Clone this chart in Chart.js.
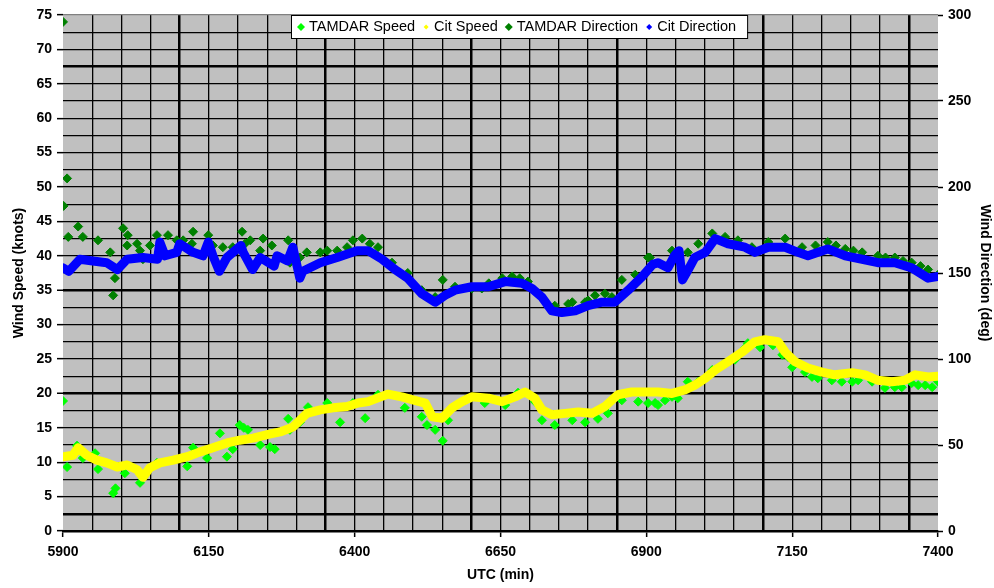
<!DOCTYPE html>
<html lang="en">
<head>
<meta charset="UTF-8">
<title>TAMDAR vs Citation winds</title>
<script src="https://cdn.jsdelivr.net/npm/chart.js@4/dist/chart.umd.min.js"></script>
<style>
  body { margin: 0; background: #fff; }
  canvas { display: block; }
</style>
</head>
<body>
<canvas id="wind_chart" width="994" height="588"></canvas>
<script>
// values: time in UTC minutes, speed in knots, direction in degrees
var tamdarSpeedTime = [5900, 5907, 5924, 5934, 5955, 5960, 5986, 5990, 6006, 6032, 6061, 6113, 6123, 6147, 6169, 6181,
  6191, 6203, 6210, 6217, 6238, 6255, 6263, 6286, 6289, 6306, 6320, 6353, 6375, 6397, 6418, 6440, 6486, 6515, 6524,
  6538, 6551, 6560, 6589, 6623, 6658, 6680, 6709, 6721, 6743, 6773, 6795, 6817, 6834, 6858, 6886, 6903, 6915, 6920,
  6932, 6944, 6954, 6971, 6989, 7013, 7030, 7052, 7069, 7074, 7095, 7117, 7133, 7143, 7150, 7172, 7184, 7194, 7218,
  7235, 7253, 7263, 7287, 7309, 7326, 7338, 7355, 7366, 7378, 7390, 7400];
var tamdarSpeedKnots = [18.9, 9.3, 12.4, 10.6, 11.3, 9.0, 5.5, 6.2, 8.4, 7.0, 9.9, 9.4, 12.1, 10.6, 14.2, 10.8,
  11.9, 15.4, 15.0, 14.7, 12.5, 12.2, 11.9, 16.3, 14.7, 15.8, 18.0, 18.6, 15.8, 18.6, 16.4, 19.8, 17.9, 16.6, 15.4,
  14.7, 13.1, 16.1, 19.0, 18.6, 18.3, 20.1, 18.8, 16.1, 15.4, 16.1, 15.8, 16.3, 17.1, 19.0, 18.8, 18.6, 18.6, 18.3,
  19.0, 19.5, 19.3, 21.7, 21.7, 23.4, 24.1, 24.9, 26.6, 27.3, 26.7, 27.0, 25.6, 25.3, 23.8, 23.1, 22.4, 22.2, 21.9,
  21.7, 21.7, 21.9, 21.7, 20.8, 20.9, 20.9, 21.5, 21.2, 21.2, 20.9, 21.7];

var citSpeedTime = [5900, 5917, 5926, 5941, 5958, 5975, 5993, 6010, 6027, 6037, 6049, 6066, 6089, 6113, 6135, 6157,
  6181, 6203, 6226, 6250, 6272, 6294, 6318, 6341, 6363, 6387, 6406, 6423, 6457, 6481, 6503, 6521, 6533, 6550, 6567,
  6584, 6601, 6629, 6653, 6675, 6692, 6709, 6721, 6738, 6761, 6783, 6807, 6829, 6851, 6875, 6898, 6920, 6944, 6966,
  6983, 7001, 7018, 7040, 7064, 7086, 7103, 7126, 7138, 7155, 7177, 7201, 7223, 7253, 7275, 7297, 7321, 7343, 7361,
  7383, 7400];
var citSpeedKnots = [10.8, 11.0, 12.1, 11.0, 10.3, 9.9, 9.3, 9.6, 8.9, 7.8, 9.2, 9.9, 10.3, 10.8, 11.5, 12.1,
  12.8, 13.2, 13.5, 14.0, 14.4, 15.1, 17.1, 17.6, 17.9, 18.1, 18.6, 18.8, 19.9, 19.5, 19.0, 18.6, 16.6, 16.4, 17.9,
  18.8, 19.5, 19.3, 18.8, 19.5, 20.2, 19.3, 17.6, 16.9, 17.1, 17.3, 17.1, 18.1, 19.8, 20.2, 20.2, 20.2, 20.0, 20.5,
  21.2, 22.2, 23.4, 24.6, 26.0, 27.5, 27.8, 27.5, 26.0, 24.6, 23.7, 23.1, 22.7, 23.0, 22.7, 21.9, 21.7, 21.9, 22.7,
  22.4, 22.5];

var tamdarDirTime = [5900, 5901, 5907, 5909, 5926, 5934, 5960, 5981, 5986, 5989, 6003, 6010, 6011, 6027, 6032, 6037,
  6049, 6061, 6080, 6095, 6106, 6121, 6123, 6149, 6157, 6174, 6191, 6207, 6212, 6221, 6238, 6243, 6258, 6286, 6289,
  6306, 6318, 6341, 6353, 6370, 6387, 6397, 6413, 6426, 6440, 6464, 6491, 6515, 6538, 6551, 6572, 6601, 6618, 6630,
  6653, 6670, 6683, 6697, 6743, 6766, 6773, 6795, 6800, 6812, 6829, 6841, 6858, 6881, 6903, 6906, 6944, 6971, 6989,
  7013, 7035, 7057, 7081, 7109, 7138, 7167, 7190, 7211, 7225, 7241, 7255, 7270, 7297, 7310, 7326, 7340, 7355, 7370,
  7383, 7400];
var tamdarDirDeg = [296, 189, 205, 171, 177, 171, 169, 162, 137, 147, 176, 166, 172, 167, 163, 158,
  166, 172, 172, 169, 169, 167, 174, 172, 166, 165, 165, 174, 167, 169, 163, 170, 166, 169, 156,
  159, 162, 162, 163, 163, 165, 169, 170, 167, 165, 156, 150, 140, 136, 146, 142, 141, 141, 144,
  147, 148, 147, 145, 131, 132, 133, 133, 134, 137, 138, 136, 146, 149, 159, 159, 163, 162, 167,
  173, 171, 169, 165, 168, 170, 165, 166, 168, 166, 164, 163, 162, 160, 159, 159, 157, 156, 154,
  152, 149];

var citDirTime = [5900, 5910, 5929, 5951, 5975, 5993, 6010, 6037, 6062, 6066, 6075, 6095, 6100, 6123, 6140, 6149,
  6157, 6168, 6181, 6205, 6209, 6225, 6238, 6262, 6267, 6285, 6294, 6306, 6311, 6341, 6370, 6404, 6423, 6447, 6469,
  6491, 6515, 6538, 6555, 6572, 6601, 6629, 6658, 6687, 6704, 6721, 6738, 6755, 6778, 6800, 6824, 6846, 6869, 6893,
  6911, 6920, 6937, 6948, 6956, 6962, 6972, 6983, 7001, 7018, 7040, 7069, 7086, 7109, 7138, 7160, 7177, 7211, 7241,
  7270, 7297, 7326, 7355, 7383, 7400];
var citDirDeg = [153, 151, 158, 157, 156, 152, 158, 159, 158, 168, 160, 162, 167, 162, 160, 168,
  160, 151, 159, 166, 162, 152, 159, 154, 160, 157, 165, 147, 151, 156, 159, 163, 163, 158, 152,
  147, 138, 133, 137, 140, 142, 142, 145, 144, 141, 136, 128, 127, 128, 131, 133, 133, 140, 148,
  155, 156, 153, 160, 163, 146, 152, 159, 162, 170, 167, 165, 162, 165, 165, 162, 160, 164, 160,
  158, 156, 156, 153, 147, 148];

var thickRows = [2.5, 20, 35, 67.5];   // knot rows drawn heavier in the original

function pairs(xs, ys) {
  return xs.map(function (x, i) { return { x: x, y: ys[i] }; });
}

var tickFont = { family: '"Liberation Sans", Arial, sans-serif', size: 14, weight: 'bold' };
var titleFont = { family: '"Liberation Sans", Arial, sans-serif', size: 14, weight: 'bold' };
var clear = 'rgba(0,0,0,0)';

var plotBackground = {
  id: 'plotBackground',
  beforeDraw: function (chart) {
    var a = chart.chartArea, ctx = chart.ctx;
    ctx.save();
    ctx.fillStyle = '#c0c0c0';
    ctx.fillRect(a.left, a.top, a.right - a.left, a.bottom - a.top);
    ctx.restore();
  }
};

// excel style legend: white box sitting inside the top of the plot
var boxLegend = {
  id: 'boxLegend',
  afterDraw: function (chart) {
    var ctx = chart.ctx, a = chart.chartArea;
    var sets = chart.data.datasets;
    ctx.save();
    ctx.font = '14.5px "Liberation Sans", Arial, sans-serif';
    var total = 0;
    sets.forEach(function (ds) { total += 8 + ctx.measureText(ds.label).width + 11; });
    var left = a.left + 228, top = a.top, w = total + 10, h = 23;
    ctx.fillStyle = '#fff';
    ctx.fillRect(left, top, w, h);
    ctx.strokeStyle = '#000';
    ctx.lineWidth = 1;
    ctx.strokeRect(left + 0.5, top + 0.5, w, h);
    var x = left + 10, y = top + 12;
    sets.forEach(function (ds) {
      var r = ds.legendMark;
      ctx.fillStyle = ds.backgroundColor;
      ctx.beginPath();
      ctx.moveTo(x, y - r);
      ctx.lineTo(x + r, y);
      ctx.lineTo(x, y + r);
      ctx.lineTo(x - r, y);
      ctx.closePath();
      ctx.fill();
      ctx.fillStyle = '#000';
      ctx.textBaseline = 'middle';
      ctx.textAlign = 'left';
      ctx.fillText(ds.label, x + 8, y);
      x += 8 + ctx.measureText(ds.label).width + 11;
    });
    ctx.restore();
  }
};

var ctx = document.getElementById('wind_chart').getContext('2d');
var chart = new Chart(ctx, {
  type: 'scatter',
  data: {
    datasets: [{
      label: 'TAMDAR Speed',
      data: pairs(tamdarSpeedTime, tamdarSpeedKnots),
      yAxisID: 'y',
      pointStyle: 'rectRot',
      pointRadius: 4.5,
      backgroundColor: '#00ff00',
      borderColor: '#00ff00',
      borderWidth: 1,
      legendMark: 4,
      order: 4
    }, {
      label: 'Cit Speed',
      data: pairs(citSpeedTime, citSpeedKnots),
      yAxisID: 'y',
      showLine: true,
      backgroundColor: '#ffff00',
      borderColor: '#ffff00',
      borderWidth: 9,
      borderJoinStyle: 'round',
      borderCapStyle: 'round',
      pointRadius: 0,
      legendMark: 2.5,
      order: 3
    }, {
      label: 'TAMDAR Direction',
      data: pairs(tamdarDirTime, tamdarDirDeg),
      yAxisID: 'y2',
      pointStyle: 'rectRot',
      pointRadius: 4.5,
      backgroundColor: '#008000',
      borderColor: '#008000',
      borderWidth: 1,
      legendMark: 4,
      order: 2
    }, {
      label: 'Cit Direction',
      data: pairs(citDirTime, citDirDeg),
      yAxisID: 'y2',
      showLine: true,
      backgroundColor: '#0000ff',
      borderColor: '#0000ff',
      borderWidth: 9,
      borderJoinStyle: 'round',
      borderCapStyle: 'round',
      pointRadius: 0,
      legendMark: 3,
      order: 1
    }]
  },
  options: {
    responsive: false,
    animation: false,
    devicePixelRatio: 1,
    events: [],
    layout: { padding: { top: 15, left: 0, right: 0, bottom: 0 } },
    plugins: { legend: { display: false }, tooltip: { enabled: false } },
    scales: {
      x: {
        type: 'linear',
        min: 5900,
        max: 7400,
        afterFit: function (s) { s.height = 57; },
        ticks: {
          stepSize: 50,
          autoSkip: false,
          maxRotation: 0,
          padding: 7,
          color: '#000',
          font: tickFont,
          callback: function (v) { return (v - 5900) % 250 === 0 ? String(v) : ''; }
        },
        grid: {
          color: function (c) { var v = c.tick.value; return (v === 5900 || v === 7400) ? clear : '#000'; },
          lineWidth: function (c) { return (c.tick.value - 6100) % 250 === 0 ? 2.5 : 1.3; },
          tickLength: 6,
          tickWidth: 1.5,
          tickColor: function (c) { return (c.tick.value - 5900) % 250 === 0 ? '#000' : clear; }
        },
        border: { display: true, color: '#000', width: 2.5 },
        title: { display: true, text: 'UTC (min)', color: '#000', font: titleFont, padding: { top: 0, bottom: 4 } }
      },
      y: {
        position: 'left',
        min: 0,
        max: 75,
        afterFit: function (s) { s.width = 63; },
        ticks: {
          stepSize: 2.5,
          autoSkip: false,
          padding: 5,
          color: '#000',
          font: tickFont,
          callback: function (v) { return v % 5 === 0 ? String(v) : ''; }
        },
        grid: {
          color: function (c) { return c.tick.value === 75 ? '#808080' : '#000'; },
          lineWidth: function (c) { return thickRows.indexOf(c.tick.value) >= 0 ? 2.5 : 1.3; },
          tickLength: 6,
          tickWidth: 1.5,
          tickColor: function (c) { return c.tick.value % 5 === 0 ? '#000' : clear; }
        },
        border: { display: false },
        title: { display: true, text: 'Wind Speed (knots)', color: '#000', font: titleFont, padding: { top: 11, bottom: 0 } }
      },
      y2: {
        position: 'right',
        min: 0,
        max: 300,
        afterFit: function (s) { s.width = 56; },
        ticks: { stepSize: 50, padding: 5, color: '#000', font: tickFont },
        grid: { drawOnChartArea: false, color: '#000', tickLength: 5, tickWidth: 1.5 },
        border: { display: false },
        title: { display: true, text: 'Wind Direction (deg)', color: '#000', font: titleFont, padding: { top: 1, bottom: 0 } }
      }
    }
  },
  plugins: [plotBackground, boxLegend]
});
</script>
</body>
</html>
